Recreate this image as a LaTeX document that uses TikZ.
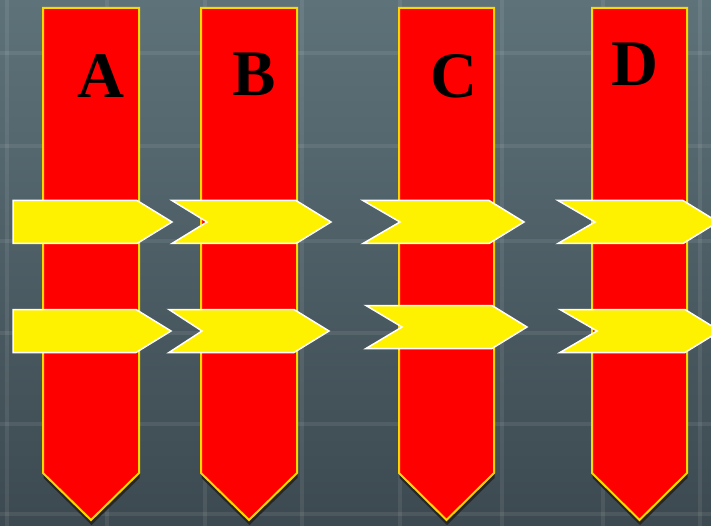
\documentclass[tikz,border=0pt]{standalone}
\usepackage{fontspec}
\setmainfont{Liberation Serif}
\usepackage{tikz}
\usetikzlibrary{positioning}

\definecolor{slatetop}{RGB}{94,114,122}
\definecolor{slatebot}{RGB}{60,73,80}
\definecolor{gold}{RGB}{255,214,0}

\begin{document}
\begin{tikzpicture}[x=1pt, y=-1pt,
    gridline/.style={white, opacity=0.08, line width=3.5pt},
    redbar/.style={fill=red, draw=gold, line width=2pt, line join=miter},
    barshadow/.style={fill=black!85, draw=none},
    chevron/.style={fill=yellow, draw=white, line width=1.5pt, line join=miter},
    letter/.style={inner sep=0pt, anchor=base, font=\fontsize{65}{65}\selectfont\bfseries}]
    \useasboundingbox (0,0) rectangle (711,526);
    \clip (0,0) rectangle (711,526);

    % background
    \shade[top color=slatetop, bottom color=slatebot] (0,0) rectangle (711,526);
    \foreach \gx in {7,107,205,302,400,502,603,700}
      \draw[gridline] (\gx,0) -- (\gx,526);
    \foreach \gy in {53,146,241,333,424,514}
      \draw[gridline] (0,\gy) -- (711,\gy);

    % red bars with letters
    \foreach \xl/\xr/\lx/\ly/\txt in {43/139/101/98/A, 201/297/254/96/B,
                                     399/494/454/98/C, 592/687/635/86/D} {
      \pgfmathsetmacro{\xm}{(\xl+\xr)/2}
      \fill[barshadow, shift={(0.5,5)}] (\xl,8) -- (\xr,8) -- (\xr,473) -- (\xm,520)
        -- (\xl,473) -- cycle;
      \draw[redbar] (\xl,8) -- (\xr,8) -- (\xr,473) -- (\xm,520)
        -- (\xl,473) -- cycle;
      \node[letter] (lab\txt) at (\lx,\ly) {\txt};
    }

    % yellow chevrons (left edge, right corner, middle, notch depth)
    \foreach \l/\r/\m/\n in {13/137/222/0, 172/296/222/35, 363/489/222/37, 558/683/222/37,
                             13/136/331/0, 169/294/331/33, 366/492/327/36, 560/685/331/37}
      \draw[chevron] (\l,\m-21.5) -- (\r,\m-21.5) -- (\r+35,\m) -- (\r,\m+21.5)
        -- (\l,\m+21.5) -- (\l+\n,\m) -- cycle;
\end{tikzpicture}
\end{document}
